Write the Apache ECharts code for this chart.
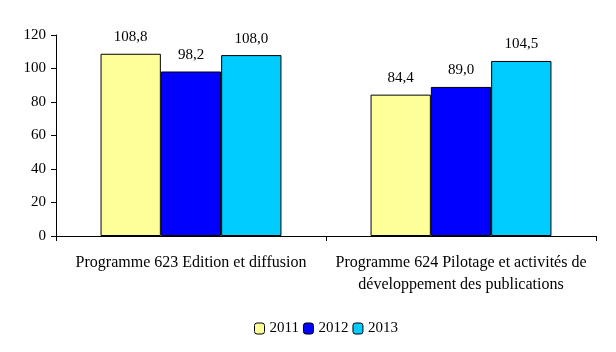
<!DOCTYPE html>
<html><head><meta charset="utf-8">
<script src="https://cdn.jsdelivr.net/npm/echarts@6/dist/echarts.min.js"></script>
<style>html,body{margin:0;padding:0;background:#fff}#c{width:616px;height:352px}</style>
</head><body><div id="c"></div>
<script>
const categories = ["Programme 623 Edition et diffusion", "Programme 624 Pilotage et activités de\ndéveloppement des publications"];
const seriesNames = ["2011", "2012", "2013"];
const v2011 = [108.8, 84.4];
const v2012 = [98.2, 89.0];
const v2013 = [108.0, 104.5];
const yTicks = [0, 20, 40, 60, 80, 100, 120];
const colors = ["#FFFF99", "#0000FF", "#00CCFF"];
const font = "'Liberation Serif', 'Times New Roman', serif";
const chart = echarts.init(document.getElementById('c'));
const values = [v2011, v2012, v2013];
chart.setOption({
  animation: false,
  textStyle: {fontFamily: font},
  grid: {left: 56, right: 20, top: 35, bottom: 116, containLabel: false},
  legend: {
    bottom: 11, left: 249, itemWidth: 10, itemHeight: 11, itemGap: 4,
    textStyle: {fontFamily: font, fontSize: 15, color: '#000'},
    data: seriesNames.map((n, i) => ({name: n, itemStyle: {color: colors[i], borderColor: '#000', borderWidth: 1}}))
  },
  xAxis: {
    type: 'category', data: categories,
    axisLine: {lineStyle: {color: '#000', width: 1}},
    axisTick: {show: true, length: 5, lineStyle: {color: '#000'}},
    axisLabel: {color: '#000', fontFamily: font, fontSize: 16, margin: 16, lineHeight: 22, interval: 0}
  },
  yAxis: {
    type: 'value', min: 0, max: 120, interval: 20,
    splitLine: {show: false},
    axisLine: {show: true, lineStyle: {color: '#000', width: 1}},
    axisTick: {show: true, length: 5, lineStyle: {color: '#000'}},
    axisLabel: {color: '#000', fontFamily: font, fontSize: 15, margin: 10,
      formatter: v => yTicks.includes(v) ? String(v) : ''}
  },
  series: seriesNames.map((n, i) => ({
    name: n, type: 'bar', data: values[i],
    barGap: '0%', barCategoryGap: '33%',
    itemStyle: {color: colors[i], borderColor: '#000', borderWidth: 1},
    label: {show: true, position: 'top', distance: 9, color: '#000', fontFamily: font, fontSize: 15,
      formatter: p => p.value.toFixed(1).replace('.', ',')}
  }))
});
</script></body></html>
